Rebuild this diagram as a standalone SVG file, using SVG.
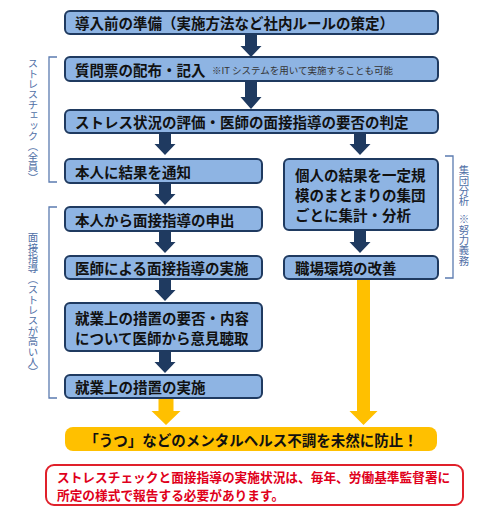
<svg xmlns="http://www.w3.org/2000/svg" width="500" height="511" viewBox="0 0 500 511">
<style>
.box{fill:#8EB4E3;stroke:#1F3A60;stroke-width:2}
.t{font-family:"Noto Sans CJK JP","Noto Sans",sans-serif;font-weight:bold;font-size:14.5px;fill:#111;dominant-baseline:central}
.note{font-family:"Noto Sans CJK JP","Noto Sans",sans-serif;font-size:9.5px;fill:#333;dominant-baseline:central}
.side{font-family:"Noto Sans CJK JP","Noto Sans",sans-serif;font-size:10.4px;fill:#4F6FA6;writing-mode:vertical-rl}
.br{fill:none;stroke:#5B7BB0;stroke-width:1.3}
.arr{fill:#1F3A60}
.yarr{fill:#FFC000}
.red{font-family:"Noto Sans CJK JP","Noto Sans",sans-serif;font-weight:bold;font-size:12.7px;fill:#E0001B;dominant-baseline:central}
</style>
<rect width="500" height="511" fill="#fff"/>
<g id="connectors">
<path class="arr" d="M245 34H257V46H261.5L251 57L240.5 46H245Z"/>
<path class="arr" d="M245 81H257V97H261.5L251 109L240.5 97H245Z"/>
<path class="arr" d="M159 133H171V144H175.5L165 155L154.5 144H159Z"/>
<path class="arr" d="M354 133H366V144H370.5L360 155L349.5 144H354Z"/>
<path class="arr" d="M159 183H171V194H175.5L165 205L154.5 194H159Z"/>
<path class="arr" d="M159 231H171V242H175.5L165 253L154.5 242H159Z"/>
<path class="arr" d="M354 230H366V242H370.5L360 253L349.5 242H354Z"/>
<path class="arr" d="M159 279H171V290H175.5L165 301L154.5 290H159Z"/>
<path class="arr" d="M159 351H171V362H175.5L165 373L154.5 362H159Z"/>
<path class="yarr" d="M158.5 398H173.5V411H180.5L166 425L151.5 411H158.5Z"/>
<path class="yarr" d="M357 279H370V411H377.5L363.5 425L349.5 411H357Z"/>
</g>
<g id="n1"><rect class="box" x="65" y="11" width="373" height="23" rx="5"/><text class="t" x="75" y="22.5">導入前の準備（実施方法など社内ルールの策定）</text></g>
<g id="n2"><rect class="box" x="65" y="57" width="373" height="24" rx="5"/><text class="t" x="75" y="69">質問票の配布・記入</text><text class="note" x="212" y="70">※IT システムを用いて実施することも可能</text></g>
<g id="n3"><rect class="box" x="65" y="110" width="373" height="23" rx="5"/><text class="t" x="75" y="121.5">ストレス状況の評価・医師の面接指導の要否の判定</text></g>
<g id="n4"><rect class="box" x="65" y="159" width="197" height="24" rx="5"/><text class="t" x="75" y="171">本人に結果を通知</text></g>
<g id="n5"><rect class="box" x="65" y="207" width="197" height="24" rx="5"/><text class="t" x="75" y="219">本人から面接指導の申出</text></g>
<g id="n6"><rect class="box" x="65" y="256" width="197" height="23" rx="5"/><text class="t" x="75" y="267.5">医師による面接指導の実施</text></g>
<g id="n7"><rect class="box" x="65" y="303" width="197" height="48" rx="5"/><text class="t" x="75" y="317">就業上の措置の要否・内容</text><text class="t" x="75" y="337">について医師から意見聴取</text></g>
<g id="n8"><rect class="box" x="65" y="375" width="197" height="23" rx="5"/><text class="t" x="75" y="386.5">就業上の措置の実施</text></g>
<g id="n9"><rect class="box" x="284" y="159" width="154" height="71" rx="5"/><text class="t" x="295" y="174.5">個人の結果を一定規</text><text class="t" x="295" y="194.5">模のまとまりの集団</text><text class="t" x="295" y="214.5">ごとに集計・分析</text></g>
<g id="n10"><rect class="box" x="284" y="256" width="154" height="23" rx="5"/><text class="t" x="295" y="267.5">職場環境の改善</text></g>
<g id="n11"><rect x="65" y="427" width="372" height="24" rx="8" fill="#FFC000"/><text class="t" x="251" y="439" text-anchor="middle">「うつ」などのメンタルヘルス不調を未然に防止！</text></g>
<g id="n12"><rect x="46" y="465" width="417" height="40" rx="8" fill="#fff" stroke="#E0202A" stroke-width="2"/><text class="red" x="57" y="476.5">ストレスチェックと面接指導の実施状況は、毎年、労働基準監督署に</text><text class="red" x="57" y="494">所定の様式で報告する必要があります。</text></g>
<g id="labels">
<path class="br" d="M57 57H49V182H57"/>
<path class="br" d="M57 207H49V398H57"/>
<path class="br" d="M445 156H453V278H445"/>
<text class="side" x="33" y="58">ストレスチェック（全員）</text>
<text class="side" x="33" y="232">面接指導（ストレスが高い人）</text>
<text class="side" x="464" y="165">集団分析</text>
<text class="side" x="464" y="214">※努力義務</text>
</g>
</svg>
